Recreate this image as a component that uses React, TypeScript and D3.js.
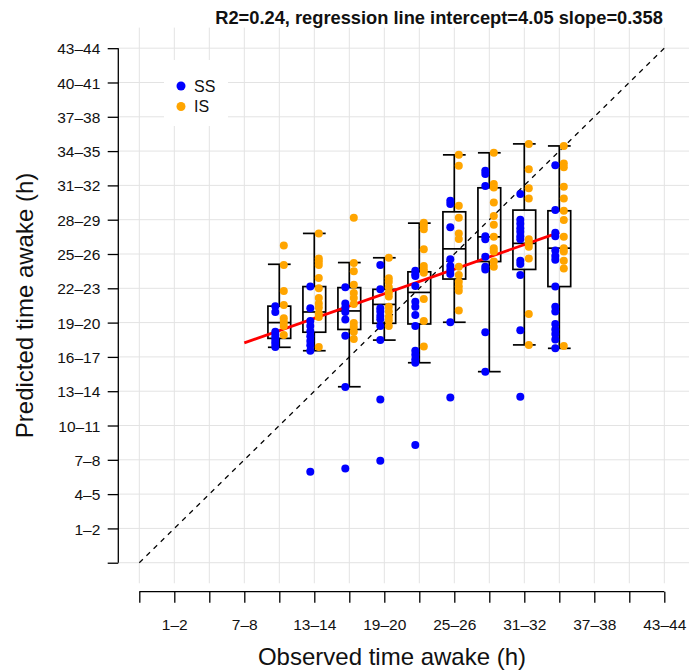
import React, { useEffect, useRef } from "react";
import * as d3 from "d3";

// bins shown on both axes (tick positions -2..13)
const tickValues = [-2, -1, 0, 1, 2, 3, 4, 5, 6, 7, 8, 9, 10, 11, 12, 13];
const tickLabels = ["", "1–2", "4–5", "7–8", "10–11", "13–14", "16–17", "19–20", "22–23",
  "25–26", "28–29", "31–32", "34–35", "37–38", "40–41", "43–44"];

// one box per observed bin
const boxPositions = [2, 3, 4, 5, 6, 7, 8, 9, 10];
const whiskerLow = [4.28, 4.18, 3.13, 4.49, 3.83, 5.01, 3.57, 4.35, 4.25];
const quartile1 = [4.54, 4.72, 4.8, 4.98, 4.96, 6.27, 6.78, 6.55, 6.05];
const medians = [5.0, 5.31, 5.34, 5.53, 5.88, 7.15, 7.5, 7.31, 7.17];
const quartile3 = [5.48, 6.05, 6.02, 5.97, 6.48, 8.23, 8.93, 8.28, 8.26];
const whiskerHigh = [6.7, 7.6, 6.75, 6.89, 7.9, 9.89, 9.95, 10.21, 10.15];

const ssValues = [
  [5.48, 5.31, 4.73, 4.64, 4.55, 4.46, 4.38, 4.29],
  [6.05, 5.42, 5.05, 4.9, 4.75, 4.6, 4.46, 4.34, 4.18, 0.65],
  [6.03, 5.56, 5.43, 5.31, 5.09, 4.62, 3.12, 0.75],
  [6.68, 5.97, 5.42, 5.32, 5.19, 5.1, 4.9, 4.49, 2.76, 0.97],
  [6.51, 6.42, 6.36, 6.07, 5.61, 5.46, 5.22, 4.9, 4.18, 4.06, 3.93, 3.83, 1.43],
  [8.55, 8.46, 7.78, 6.85, 6.65, 6.53, 6.42, 5.01, 2.82],
  [9.43, 9.33, 8.98, 7.52, 7.43, 6.92, 6.63, 6.55, 4.72, 3.57],
  [8.75, 8.0, 7.88, 7.75, 7.65, 7.52, 7.43, 6.8, 6.71, 6.39, 4.78, 2.84],
  [9.59, 8.28, 7.62, 7.52, 7.1, 6.94, 6.83, 6.05, 5.46, 5.32, 4.96, 4.8, 4.67, 4.51, 4.25],
];
const isValues = [
  [7.25, 6.68, 5.92, 5.51, 5.13, 5.02, 4.9, 4.64],
  [7.6, 6.87, 6.78, 6.68, 6.3, 6.0, 5.72, 5.56, 5.44, 5.27, 5.16, 4.29],
  [8.06, 6.74, 6.5, 6.1, 5.86, 5.72, 5.54, 4.99, 4.87, 4.73, 4.52],
  [6.89, 6.29, 6.19, 6.03, 5.87, 5.76, 5.46, 5.32, 5.17, 5.06, 4.9],
  [7.91, 7.82, 7.72, 7.14, 6.65, 6.55, 6.45, 5.69, 5.05, 4.3],
  [9.89, 9.57, 8.41, 8.06, 7.6, 7.44, 6.63, 6.39, 6.19, 6.05, 5.93, 5.35],
  [9.95, 9.04, 8.94, 8.5, 8.11, 7.85, 7.5, 7.17, 7.07, 6.78, 6.63],
  [10.21, 9.47, 8.92, 8.62, 7.43, 7.31, 7.21, 6.87, 5.25, 4.35],
  [10.15, 9.64, 9.53, 8.96, 8.62, 8.26, 7.99, 7.5, 7.17, 7.07, 6.8, 6.58, 4.32],
];

const r2 = 0.24;
const intercept = 4.05;
const slope = 0.358;
const fitRange = [1, 10];

const groups = ["SS", "IS"];
const groupColors = ["#0000FF", "#FFA500"];

const W = 689;
const H = 670;
const FONT = "'Liberation Sans', Arial, Helvetica, sans-serif";

const App = () => {
  const ref = useRef<SVGSVGElement>(null);

  useEffect(() => {
    const svg = d3.select(ref.current);
    svg.selectAll("*").remove();

    const x = d3.scaleLinear().domain([-2.6, 13.6]).range([118.3, 685.3]);
    const y = d3.scaleLinear().domain([-2.6, 13.6]).range([583.3, 27.6]);
    const [x0, x1] = x.range();
    const [y0, y1] = y.range();

    // grid
    const grid = svg.append("g").attr("stroke", "#e3e3e3").attr("stroke-width", 1);
    grid.selectAll("line.v")
      .data(tickValues)
      .enter()
      .append("line")
      .attr("x1", (d) => x(d))
      .attr("x2", (d) => x(d))
      .attr("y1", y1)
      .attr("y2", y0);
    grid.selectAll("line.h")
      .data(tickValues)
      .enter()
      .append("line")
      .attr("x1", x0)
      .attr("x2", x1 + 4)
      .attr("y1", (d) => y(d))
      .attr("y2", (d) => y(d));

    // identity line
    svg.append("line")
      .attr("x1", x(tickValues[0]))
      .attr("y1", y(tickValues[0]))
      .attr("x2", x(tickValues[tickValues.length - 1]))
      .attr("y2", y(tickValues[tickValues.length - 1]))
      .attr("stroke", "#000")
      .attr("stroke-width", 1.2)
      .attr("stroke-dasharray", "5,5");

    // boxplots
    const bw = 0.65 * (x(1) - x(0));
    const boxes = svg.append("g")
      .attr("stroke", "#000")
      .attr("stroke-width", 1.7)
      .attr("fill", "none");
    boxPositions.forEach((p, i) => {
      const cx = x(p);
      boxes.append("line").attr("x1", cx).attr("x2", cx)
        .attr("y1", y(whiskerHigh[i])).attr("y2", y(quartile3[i]));
      boxes.append("line").attr("x1", cx).attr("x2", cx)
        .attr("y1", y(quartile1[i])).attr("y2", y(whiskerLow[i]));
      [whiskerHigh[i], whiskerLow[i]].forEach((v) => {
        boxes.append("line")
          .attr("x1", cx - bw / 2).attr("x2", cx + bw / 2)
          .attr("y1", y(v)).attr("y2", y(v));
      });
      boxes.append("rect")
        .attr("x", cx - bw / 2)
        .attr("width", bw)
        .attr("y", y(quartile3[i]))
        .attr("height", y(quartile1[i]) - y(quartile3[i]));
      boxes.append("line")
        .attr("x1", cx - bw / 2).attr("x2", cx + bw / 2)
        .attr("y1", y(medians[i])).attr("y2", y(medians[i]));
    });

    // regression line
    svg.append("line")
      .attr("x1", x(fitRange[0]))
      .attr("y1", y(intercept + slope * fitRange[0]))
      .attr("x2", x(fitRange[1]))
      .attr("y2", y(intercept + slope * fitRange[1]))
      .attr("stroke", "#FF0000")
      .attr("stroke-width", 2.8);

    // points
    [ssValues, isValues].forEach((series, g) => {
      const offset = g === 0 ? -4 : 4.5;
      series.forEach((vals, i) => {
        svg.append("g")
          .selectAll("circle")
          .data(vals)
          .enter()
          .append("circle")
          .attr("cx", x(boxPositions[i]) + offset)
          .attr("cy", (d) => y(d))
          .attr("r", 4)
          .attr("fill", groupColors[g]);
      });
    });

    // axes
    const yAxis = svg.append("g").attr("transform", `translate(${x0},0)`);
    yAxis.call(
      d3.axisLeft(y)
        .tickValues(tickValues)
        .tickFormat((d, i) => tickLabels[i])
        .tickSize(10.6)
        .tickSizeOuter(0)
    );
    const xAxis = svg.append("g").attr("transform", `translate(0,591.7)`);
    xAxis.call(
      d3.axisBottom(x)
        .tickValues(tickValues)
        .tickFormat((d, i) => (i % 2 === 1 ? tickLabels[i] : ""))
        .tickSize(11)
        .tickSizeOuter(0)
    );
    [yAxis, xAxis].forEach((a) => {
      a.select(".domain").remove();
      a.selectAll("line").attr("stroke", "#000").attr("stroke-width", 1.3);
      a.selectAll("text")
        .attr("font-family", FONT)
        .attr("font-size", 15.5)
        .attr("fill", "#111");
    });
    yAxis.append("line")
      .attr("y1", y(tickValues[0])).attr("y2", y(tickValues[tickValues.length - 1]))
      .attr("stroke", "#000").attr("stroke-width", 1.3);
    yAxis.selectAll(".tick text").attr("x", -18).attr("dy", "0.36em");
    xAxis.append("line")
      .attr("x1", x(tickValues[0])).attr("x2", x(tickValues[tickValues.length - 1]))
      .attr("stroke", "#000").attr("stroke-width", 1.3);
    xAxis.selectAll(".tick text").attr("y", 33).attr("dy", "0.36em");

    // titles
    svg.append("text")
      .attr("x", 439)
      .attr("y", 24)
      .attr("text-anchor", "middle")
      .attr("font-family", FONT)
      .attr("font-weight", "bold")
      .attr("font-size", 18.3)
      .attr("fill", "#111")
      .text(`R2=${r2}, regression line intercept=${intercept} slope=${slope}`);

    svg.append("text")
      .attr("x", 392)
      .attr("y", 665)
      .attr("text-anchor", "middle")
      .attr("font-family", FONT)
      .attr("font-size", 24)
      .attr("fill", "#111")
      .text("Observed time awake (h)");

    svg.append("text")
      .attr("transform", `translate(33,${(y0 + y1) / 2}) rotate(-90)`)
      .attr("text-anchor", "middle")
      .attr("font-family", FONT)
      .attr("font-size", 24)
      .attr("fill", "#111")
      .text("Predicted time awake (h)");

    // legend
    const legend = svg.append("g");
    legend.append("rect")
      .attr("x", 164)
      .attr("y", 60)
      .attr("width", 64)
      .attr("height", 66)
      .attr("fill", "#fff");
    groups.forEach((name, i) => {
      legend.append("circle")
        .attr("cx", 181)
        .attr("cy", 86 + i * 20.5)
        .attr("r", 4.5)
        .attr("fill", groupColors[i]);
      legend.append("text")
        .attr("x", 194)
        .attr("y", 86 + i * 20.5)
        .attr("dy", "0.36em")
        .attr("font-family", FONT)
        .attr("font-size", 16)
        .attr("fill", "#111")
        .text(name);
    });
  }, []);

  return (
    <svg
      ref={ref}
      width={W}
      height={H}
      style={{ position: "absolute", left: 0, top: 0, background: "#fff" }}
    />
  );
};

export default App;
